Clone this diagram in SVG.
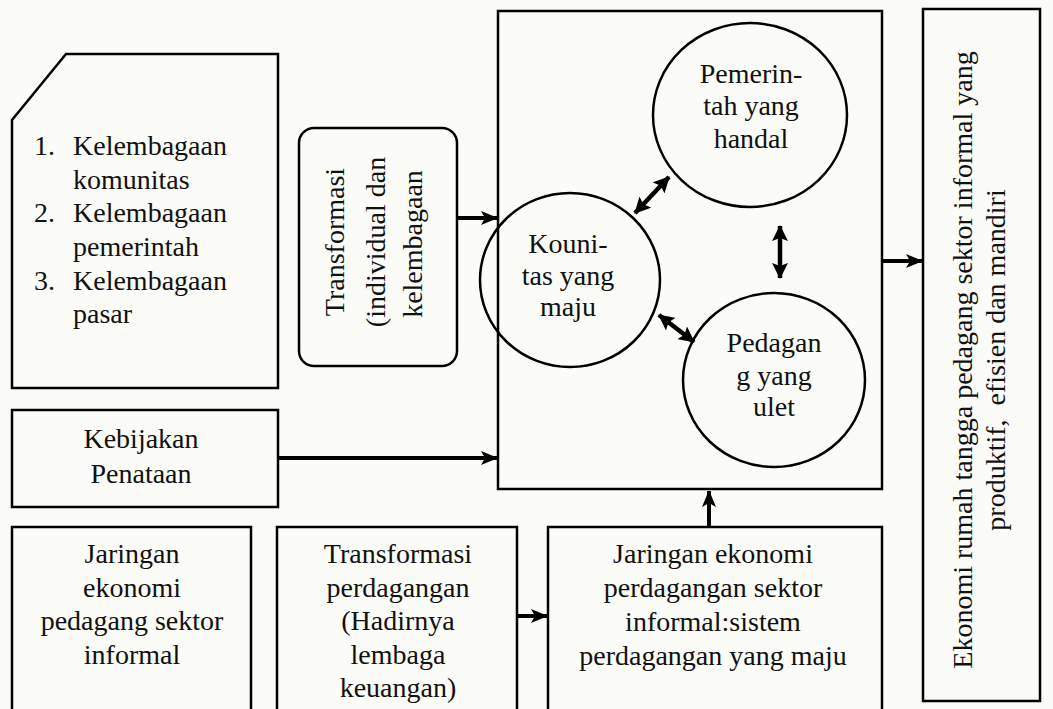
<svg xmlns="http://www.w3.org/2000/svg" width="1053" height="709" viewBox="0 0 1053 709">
<defs>
<marker id="ah" markerUnits="userSpaceOnUse" markerWidth="17" markerHeight="14" refX="16" refY="7" orient="auto-start-reverse">
<path d="M0,0 L17,7 L0,14 L4,7 Z" fill="#000"/>
</marker>
<marker id="ah2" markerUnits="userSpaceOnUse" markerWidth="16" markerHeight="16" refX="15" refY="8" orient="auto-start-reverse">
<path d="M0,0 L16,8 L0,16 L3,8 Z" fill="#000"/>
</marker>
</defs>
<style>
.box{fill:none;stroke:#000;stroke-width:2.5}
.t{font-family:"Liberation Serif","Times New Roman",serif;font-size:28px;fill:#111;white-space:pre}
.c{text-anchor:middle}
.arr{stroke:#000;stroke-width:4;fill:none;marker-end:url(#ah)}
.dbl{stroke:#000;stroke-width:4.5;fill:none;marker-start:url(#ah2);marker-end:url(#ah2)}
</style>
<rect x="0" y="0" width="1053" height="709" fill="#fbfbf7"/>

<g id="kelembagaan">
<path class="box" d="M12,120 L66,54 L278,54 L278,388 L12,388 Z"/>
<text class="t" x="34" y="155">1.</text>
<text class="t" x="73" y="155">Kelembagaan</text>
<text class="t" x="73" y="189">komunitas</text>
<text class="t" x="34" y="222">2.</text>
<text class="t" x="73" y="222">Kelembagaan</text>
<text class="t" x="73" y="256">pemerintah</text>
<text class="t" x="34" y="290">3.</text>
<text class="t" x="73" y="290">Kelembagaan</text>
<text class="t" x="73" y="323">pasar</text>
</g>

<g id="transformasi">
<rect class="box" x="299" y="128" width="158" height="238" rx="15"/>
<text class="t c" transform="translate(344,242) rotate(-90)">Transformasi</text>
<text class="t c" transform="translate(385,242) rotate(-90)">(individual dan</text>
<text class="t c" transform="translate(422,244) rotate(-90)">kelembagaan</text>
</g>

<g id="kebijakan">
<rect class="box" x="12" y="410" width="266" height="97"/>
<text class="t c" x="141" y="448">Kebijakan</text>
<text class="t c" x="141" y="483">Penataan</text>
</g>

<g id="jaringan-pedagang">
<rect class="box" x="12" y="527" width="239" height="190"/>
<text class="t c" x="132" y="563">Jaringan</text>
<text class="t c" x="132" y="597">ekonomi</text>
<text class="t c" x="132" y="630">pedagang sektor</text>
<text class="t c" x="132" y="664">informal</text>
</g>

<g id="transformasi-perdagangan">
<rect class="box" x="277" y="527" width="240" height="190"/>
<text class="t c" x="398" y="563">Transformasi</text>
<text class="t c" x="398" y="597">perdagangan</text>
<text class="t c" x="398" y="630">(Hadirnya</text>
<text class="t c" x="398" y="664">lembaga</text>
<text class="t c" x="398" y="697">keuangan)</text>
</g>

<g id="jaringan-ekonomi">
<rect class="box" x="548" y="527" width="334" height="190"/>
<text class="t c" x="713" y="563">Jaringan ekonomi</text>
<text class="t c" x="713" y="597">perdagangan sektor</text>
<text class="t c" x="713" y="631">informal:sistem</text>
<text class="t c" x="713" y="665">perdagangan yang maju</text>
</g>

<g id="inti">
<rect class="box" x="498" y="11" width="384" height="478"/>
</g>

<g id="pemerintah">
<ellipse class="box" cx="750" cy="115" rx="97" ry="92"/>
<text class="t c" x="751" y="83">Pemerin-</text>
<text class="t c" x="751" y="115">tah yang</text>
<text class="t c" x="751" y="148">handal</text>
</g>

<g id="komunitas">
<ellipse class="box" cx="570" cy="280" rx="90" ry="87"/>
<text class="t c" x="568" y="253">Kouni-</text>
<text class="t c" x="568" y="285">tas yang</text>
<text class="t c" x="568" y="316">maju</text>
</g>

<g id="pedagang">
<ellipse class="box" cx="774" cy="380" rx="91" ry="87"/>
<text class="t c" x="774" y="352">Pedagan</text>
<text class="t c" x="774" y="385">g yang</text>
<text class="t c" x="774" y="416">ulet</text>
</g>

<g id="hasil">
<rect class="box" x="923" y="9" width="117" height="692"/>
<text class="t c" transform="translate(972,360) rotate(-90)">Ekonomi rumah tangga pedagang sektor informal yang</text>
<text class="t c" transform="translate(1005,360) rotate(-90)" xml:space="preserve">produktif,  efisien dan mandiri</text>
</g>

<g id="connectors">
<line class="arr" x1="457" y1="218" x2="497" y2="218"/>
<line class="arr" x1="278" y1="458" x2="497" y2="458"/>
<line class="arr" x1="517" y1="616" x2="547" y2="616"/>
<line class="arr" x1="709" y1="527" x2="709" y2="491"/>
<line class="arr" x1="882" y1="261" x2="922" y2="261"/>
<line class="dbl" x1="635" y1="213" x2="669" y2="177"/>
<line class="dbl" x1="780" y1="226" x2="780" y2="278"/>
<line class="dbl" x1="659" y1="315" x2="694" y2="342"/>
</g>
</svg>
